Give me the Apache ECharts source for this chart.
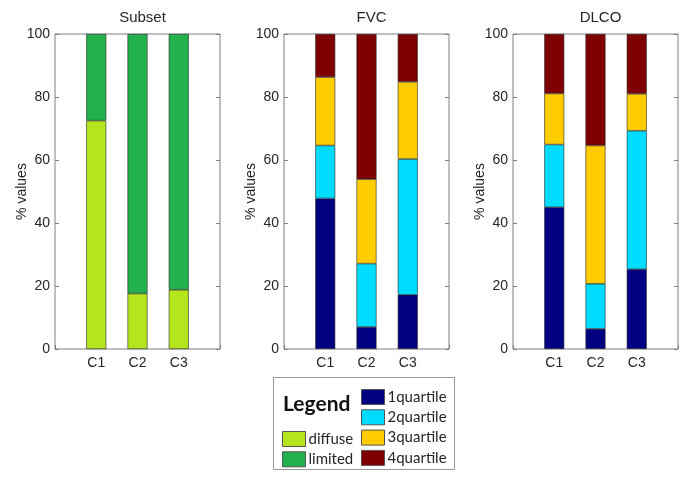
<!DOCTYPE html>
<html><head><meta charset="utf-8">
<script src="https://cdn.jsdelivr.net/npm/echarts@6/dist/echarts.min.js"></script>
<style>html,body{margin:0;padding:0;background:#fff}#c{width:688px;height:477px}</style>
</head><body><div id="c"></div>
<script>
const categories = ['C1', 'C2', 'C3'];
const yTicks = [0, 20, 40, 60, 80, 100];
const panelTitles = ['Subset', 'FVC', 'DLCO'];
const subsetNames = ['diffuse', 'limited'];
const quartileNames = ['1quartile', '2quartile', '3quartile', '4quartile'];
// Subset panel (segment heights, %)
const subsetDiffuse = [72.5, 17.6, 18.8];
const subsetLimited = [27.5, 82.4, 81.2];
// FVC panel
const fvcQ1 = [47.8, 7.0, 17.2];
const fvcQ2 = [16.8, 20.1, 43.1];
const fvcQ3 = [21.7, 26.8, 24.5];
const fvcQ4 = [13.7, 46.1, 15.2];
// DLCO panel
const dlcoQ1 = [45.0, 6.4, 25.3];
const dlcoQ2 = [19.9, 14.3, 44.0];
const dlcoQ3 = [16.2, 43.9, 11.7];
const dlcoQ4 = [18.9, 35.4, 19.0];

const subsetColors = ['#b5e61d', '#22b14c'];
const quartileColors = ['#000080', '#00dcff', '#ffcc00', '#7f0000'];

const font = 'Liberation Sans, Arial, sans-serif';
// axis positions 0..4 : blank, C1, C2, C3, blank (MATLAB-like xlim [0 4])
const axisCats = ['', ...categories, ''];
const grids = [55, 284, 513].map(l => ({left: l, width: 165, top: 34, height: 315,
  show: true, borderColor: '#808080', borderWidth: 1, backgroundColor: 'transparent'}));

const xAxes = [], yAxes = [];
grids.forEach((g, i) => {
  xAxes.push({type: 'category', gridIndex: i, data: axisCats, boundaryGap: false,
    axisLine: {show: false}, splitLine: {show: false},
    axisTick: {show: true, inside: true, length: 4, interval: 0, lineStyle: {color: '#808080'}},
    axisLabel: {interval: 0, color: '#262626', fontSize: 14, fontFamily: font, margin: 7}});
  yAxes.push({type: 'value', gridIndex: i, min: 0, max: 100, interval: 20,
    name: '% values', nameLocation: 'middle', nameGap: 26, nameRotate: 90, nameMoveOverlap: false,
    nameTextStyle: {color: '#262626', fontSize: 14, fontFamily: font},
    axisLine: {show: false}, splitLine: {show: false},
    axisTick: {show: true, inside: true, length: 4, lineStyle: {color: '#808080'}},
    axisLabel: {color: '#262626', fontSize: 14, fontFamily: font, margin: 5,
      formatter: v => yTicks.includes(v) ? String(v) : ''}});
  yAxes.push({type: 'value', gridIndex: i, min: 0, max: 100, interval: 20, position: 'right',
    axisLine: {show: false}, splitLine: {show: false}, axisLabel: {show: false},
    axisTick: {show: true, inside: true, length: 4, lineStyle: {color: '#808080'}}});
});

function mk(name, vals, color, gi, stack) {
  return {type: 'bar', name, xAxisIndex: gi, yAxisIndex: gi * 2, stack,
    barWidth: 20, data: [null, ...vals, null],
    itemStyle: {color, borderColor: '#2a2a2a', borderWidth: 0.6},
    emphasis: {disabled: true}};
}
const series = [
  mk(subsetNames[0], subsetDiffuse, subsetColors[0], 0, 's'),
  mk(subsetNames[1], subsetLimited, subsetColors[1], 0, 's'),
  mk(quartileNames[0], fvcQ1, quartileColors[0], 1, 'f'),
  mk(quartileNames[1], fvcQ2, quartileColors[1], 1, 'f'),
  mk(quartileNames[2], fvcQ3, quartileColors[2], 1, 'f'),
  mk(quartileNames[3], fvcQ4, quartileColors[3], 1, 'f'),
  mk(quartileNames[0], dlcoQ1, quartileColors[0], 2, 'd'),
  mk(quartileNames[1], dlcoQ2, quartileColors[1], 2, 'd'),
  mk(quartileNames[2], dlcoQ3, quartileColors[2], 2, 'd'),
  mk(quartileNames[3], dlcoQ4, quartileColors[3], 2, 'd'),
];

const titles = panelTitles.map((t, i) => ({text: t, left: grids[i].left + 82.5, textAlign: 'center', top: 5,
  textStyle: {color: '#262626', fontSize: 15, fontWeight: 'normal', fontFamily: font}}));

const legendText = {color: '#262626', fontSize: 15, fontFamily: 'Lato, Open Sans, sans-serif', padding: [0, 0, 0, -2]};
const legendItem = {borderWidth: 1, borderColor: '#555'};
const chart = echarts.init(document.getElementById('c'), null, {renderer: 'canvas'});
chart.setOption({
  animation: false,
  title: titles,
  grid: grids, xAxis: xAxes, yAxis: yAxes, series,
  legend: [
    {data: subsetNames, orient: 'vertical', left: 282, top: 431, padding: 0, icon: 'rect',
      itemWidth: 23, itemHeight: 15, itemGap: 4.3, textStyle: legendText, itemStyle: legendItem, selectedMode: false},
    {data: quartileNames, orient: 'vertical', left: 361, top: 389, padding: 0, icon: 'rect',
      itemWidth: 23, itemHeight: 15, itemGap: 4.3, textStyle: legendText, itemStyle: legendItem, selectedMode: false}
  ],
  graphic: [
    {type: 'rect', shape: {x: 273.5, y: 377.5, width: 181, height: 92}, style: {fill: '#fff', stroke: '#999', lineWidth: 1}, z: -1},
    {type: 'text', x: 283, y: 394, style: {text: 'Legend', font: 'bold 21px Lato, Open Sans, sans-serif', fill: '#111'}}
  ]
});
</script></body></html>
